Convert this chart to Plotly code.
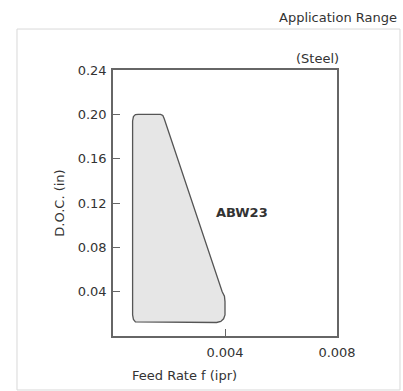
import plotly.graph_objects as go

# Application range outline (feed rate f in ipr, D.O.C. in inches)
feed = [0.0007, 0.0007, 0.00073, 0.0008, 0.0009, 0.0017, 0.00178, 0.00183, 0.0039, 0.00398, 0.0040,
        0.0040, 0.00395, 0.00385, 0.0037, 0.0009, 0.0008, 0.00073, 0.0007]
doc = [0.030, 0.194, 0.198, 0.1998, 0.200, 0.200, 0.199, 0.196, 0.040, 0.036, 0.031,
       0.019, 0.0155, 0.0132, 0.0122, 0.0122, 0.0128, 0.015, 0.019]

x_ticks = [0.004, 0.008]
x_tick_labels = ["0.004", "0.008"]
y_ticks = [0.04, 0.08, 0.12, 0.16, 0.20, 0.24]
y_tick_labels = ["0.04", "0.08", "0.12", "0.16", "0.20", "0.24"]

region_label = "ABW23"
region_label_pos = (0.0046, 0.111)

FONT = "DejaVu Sans, Verdana, sans-serif"
FS = 13
TXT = "#333333"
AX = "#666666"

fig = go.Figure()
fig.add_trace(go.Scatter(
    x=feed + [feed[0]], y=doc + [doc[0]], mode="lines", fill="toself",
    fillcolor="#e6e6e6",
    line=dict(color="#555555", width=1.3),
    hoverinfo="skip", showlegend=False,
))

fig.add_annotation(x=region_label_pos[0], y=region_label_pos[1], text="<b>" + region_label + "</b>",
                   showarrow=False, font=dict(family=FONT, size=FS, color=TXT))

# Outer light frame
fig.add_shape(type="rect", xref="paper", yref="paper",
              x0=-0.4286, x1=1.2812, y0=-0.203, y1=1.154,
              line=dict(color="#d9d9d9", width=1), layer="below")

fig.add_annotation(xref="paper", yref="paper", x=1.2768, y=1.199, xanchor="right", yanchor="middle",
                   text="Application Range", showarrow=False,
                   font=dict(family=FONT, size=FS, color=TXT))
fig.add_annotation(xref="paper", yref="paper", x=1.017, y=1.045, xanchor="right", yanchor="middle",
                   text="(Steel)", showarrow=False,
                   font=dict(family=FONT, size=FS, color=TXT))
# x-axis title (offset left of the plot centre, as in the original)
fig.add_annotation(xref="paper", yref="paper", x=0.321, y=-0.147, xanchor="center", yanchor="middle",
                   text="Feed Rate f (ipr)", showarrow=False,
                   font=dict(family=FONT, size=FS, color=TXT))

fig.update_xaxes(
    range=[0, 0.008], tickvals=x_ticks, ticktext=x_tick_labels,
    ticks="inside", ticklen=7, tickcolor=AX, tickwidth=1,
    showline=True, linecolor=AX, linewidth=1.5, mirror=True,
    showgrid=False, zeroline=False,
    tickfont=dict(family=FONT, size=FS, color=TXT),
    ticklabelstandoff=4,
)
fig.update_yaxes(
    range=[0, 0.24], tickvals=y_ticks, ticktext=y_tick_labels,
    ticks="inside", ticklen=7, tickcolor=AX, tickwidth=1,
    showline=True, linecolor=AX, linewidth=1.5, mirror=True,
    showgrid=False, zeroline=False,
    tickfont=dict(family=FONT, size=FS, color=TXT),
    ticklabelstandoff=2,
    title=dict(text="D.O.C. (in)", font=dict(family=FONT, size=FS, color=TXT), standoff=10),
)

fig.update_layout(
    width=403, height=391,
    margin=dict(l=113, r=66, t=70, b=55),
    paper_bgcolor="white", plot_bgcolor="white",
    showlegend=False,
)

fig.write_html("out.html", config={"displayModeBar": False},
               post_script="document.body.style.margin='0';document.body.style.overflow='hidden';")
